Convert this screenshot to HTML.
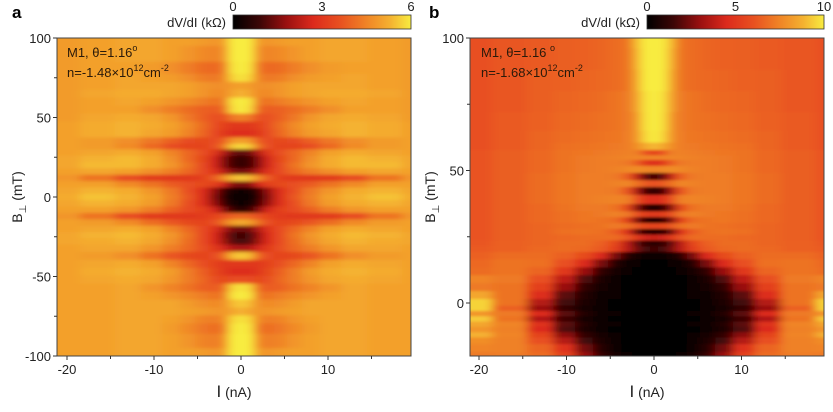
<!DOCTYPE html>
<html><head><meta charset="utf-8"><style>
body{margin:0;background:#fff;width:833px;height:412px;overflow:hidden;position:relative}
svg{display:block;font-family:"Liberation Sans",Arial,sans-serif}
</style></head><body>
<svg id="fig" width="833" height="412" viewBox="0 0 833 412">
<defs>
<filter id="blurA" x="-5%" y="-5%" width="110%" height="110%"><feGaussianBlur stdDeviation="5 1.6"/></filter>
<filter id="blurB" x="-5%" y="-5%" width="110%" height="110%"><feGaussianBlur stdDeviation="5 1.3"/></filter>
<clipPath id="clipA"><rect x="57" y="38" width="354" height="318"/></clipPath>
<clipPath id="clipB"><rect x="470" y="38" width="354" height="318"/></clipPath>
<linearGradient id="cmap" x1="0" x2="1" y1="0" y2="0">
<stop offset="0" stop-color="#000000"/><stop offset="0.15" stop-color="#3c0606"/><stop offset="0.3" stop-color="#9a1010"/><stop offset="0.45" stop-color="#dc2a1c"/><stop offset="0.6" stop-color="#e85020"/><stop offset="0.75" stop-color="#f08426"/><stop offset="0.88" stop-color="#f4b030"/><stop offset="1" stop-color="#f8ec40"/>
</linearGradient>
</defs>
</svg>
<script>
// ---- data ----
const colsI = [0,1,2,3,4.5,6,8,10,13,16,21];
const rowsBA = [100,90,80,75,70,65,60,55,50,45,40,35,32,28,24,20,16,12,8,4,0,-4,-8,-12,-16,-20,-24,-28,-32,-37,-42,-47,-52,-57,-62,-67,-72,-77,-82,-90,-100];
const valsA = [
[6,6,4.9,4.8,4.9,5,5,5.1,5.1,5,4.9],
[6,6,4.7,4.5,4.6,4.8,5,5.1,5.1,5,4.9],
[6,5.9,4.3,4,4.1,4.4,4.7,4.9,5,5,4.9],
[5.9,5.7,4.5,4.3,4.4,4.7,4.9,5,5.1,5,4.9],
[5,4.9,4.7,4.7,4.8,5,5.1,5.1,5.1,5,4.9],
[5.3,5.1,4.6,4.6,4.8,5,5.1,5.2,5.2,5.1,4.9],
[6,5.9,4.3,4.2,4.4,4.6,4.8,5,5.1,5,4.9],
[6,5.8,4,3.8,3.9,4.1,4.4,4.7,5,5,4.9],
[4.5,4.3,3.6,3.6,3.9,4.3,4.8,5.1,5.2,5.1,4.9],
[3,3,3.2,3.6,4.1,4.6,5,5.2,5.3,5.2,5],
[2.8,2.8,3,3.5,4,4.5,4.9,5.1,5.3,5.2,5],
[5,4.8,3.8,3.5,3.4,3.5,3.9,4.3,4.7,4.9,5],
[5.8,5.6,4.2,3.6,3.3,3.3,3.5,4,4.6,4.9,5],
[1.2,1.4,2.2,3,3.6,4,4.5,5,5.2,5.1,5],
[0.8,0.9,1.6,2.6,3.4,4,4.7,5.2,5.4,5.3,5.1],
[0.8,0.9,1.6,2.6,3.5,4.2,4.8,5.2,5.4,5.4,5.1],
[1.4,1.6,2.2,2.9,3.5,4,4.4,4.7,5,5.1,5],
[5.6,5.4,4.6,3.8,3.2,3,3,3.1,3.5,4.2,4.8],
[1.5,1.6,2.6,3.2,3.4,3.6,3.8,4.2,4.6,5,5],
[0.2,0.3,0.8,1.8,2.8,3.6,4.3,4.8,5.2,5.3,5.1],
[0.1,0.2,0.6,1.6,2.8,3.7,4.4,5,5.3,5.5,5.2],
[0.2,0.3,0.8,1.8,2.8,3.6,4.3,4.9,5.2,5.3,5.1],
[0.6,0.8,1.6,2.6,3.2,3.5,3.9,4.4,4.8,5,5],
[4,3.9,3.6,3.3,3.1,3,3,3.1,3.5,4.2,4.8],
[5.2,5,4.2,3.6,3.3,3.4,3.7,4.1,4.6,4.9,5],
[1.4,1.5,2.2,2.9,3.5,4,4.5,5,5.2,5.1,5],
[0.9,1,1.8,2.7,3.5,4.2,4.8,5.2,5.4,5.3,5.1],
[1,1.1,1.9,2.7,3.5,4.1,4.7,5.1,5.3,5.2,5.1],
[2,2.1,2.6,3.1,3.6,4,4.4,4.8,5.1,5.1,5],
[5.6,5.4,4,3.5,3.3,3.4,3.7,4.2,4.7,4.9,5],
[3,3,3,3.3,3.6,4,4.5,5,5.2,5.1,5],
[2.8,2.8,3,3.4,3.9,4.4,4.9,5.2,5.3,5.2,5],
[3.6,3.5,3.4,3.6,4,4.4,4.8,5.1,5.2,5.1,5],
[5.9,5.7,4,3.8,3.9,4.2,4.5,4.8,5.1,5,5],
[6,5.9,4.3,4.2,4.4,4.6,4.8,5,5.1,5,5],
[5.6,5.4,4.7,4.6,4.7,4.9,5.1,5.1,5.1,5,5],
[5.3,5.1,4.8,4.8,4.9,5,5.1,5.1,5.1,5,5],
[5.9,5.7,4.6,4.4,4.5,4.8,5,5.1,5.1,5,5],
[6,5.9,4.3,4.1,4.3,4.6,4.9,5.1,5.1,5,5],
[6,6,4.6,4.4,4.5,4.8,5,5.1,5.1,5,5],
[6,6,4.9,4.8,4.9,5,5,5.1,5.1,5,5]
];
const rowsBB = [100,92,84,76,68,62,59,56.5,55,53,50.5,47.7,45,42.6,39,35.7,33.5,31.3,29,26.9,24.7,22.5,20.5,18,15,12,9,6,3,0,-2,-4,-6,-8,-10,-12,-14,-17,-20];
const valsB = [
[10,10,9,7,6.8,6.6,6.5,6.4,6.3,6.2,6],
[10,10,8.8,7,6.8,6.6,6.5,6.4,6.3,6.2,6],
[10,10,8.6,7,6.8,6.7,6.6,6.5,6.4,6.2,6],
[10,9.8,8.4,7.2,7,6.8,6.7,6.6,6.4,6.2,6],
[10,9.8,8,7.2,7,6.9,6.8,6.7,6.5,6.3,6],
[10,9.6,8,7.3,7.1,7,6.9,6.8,6.6,6.3,6],
[9,8.6,7.8,7.3,7.2,7.1,7,6.9,6.6,6.3,6],
[5.5,6,7.4,7.4,7.3,7.2,7.1,7,6.7,6.4,6.1],
[7.5,7.5,7.6,7.5,7.4,7.3,7.2,7,6.7,6.4,6.1],
[4.5,5,6.5,7.2,7.3,7.3,7.2,7,6.7,6.4,6.1],
[7.5,7.6,7.8,7.6,7.4,7.3,7.2,7,6.7,6.4,6.1],
[1.5,2,4,6.5,7.2,7.3,7.3,7.1,6.8,6.4,6.1],
[6,6.3,7,7.6,7.4,7.3,7.3,7.1,6.8,6.4,6.1],
[1.2,1.5,3.5,6.2,7.2,7.3,7.3,7.1,6.8,6.4,6.1],
[4.5,4.8,6,7.4,7.5,7.4,7.3,7.1,6.8,6.4,6.1],
[0.8,1.1,2.8,5.8,7,7.2,7.2,7,6.7,6.4,6.1],
[5,5.2,6,7.2,7.4,7.2,7.1,6.9,6.7,6.4,6.1],
[0.8,1,2.6,5.5,6.8,7,7.1,6.9,6.7,6.4,6.1],
[5.5,5.6,6.2,7,7.2,7,6.9,6.8,6.6,6.4,6.1],
[0.8,1,2.2,4.8,6.4,6.9,7,6.9,6.6,6.4,6.1],
[4,4.2,5,6.2,6.8,6.8,6.8,6.7,6.6,6.4,6.1],
[1,1.2,2,3.8,5.6,6.5,6.8,6.8,6.6,6.5,6.2],
[1.5,1.6,2.4,3.8,5.4,6.3,6.7,6.8,6.7,6.5,6.3],
[0.3,0.3,0.5,1,2.5,4.5,5.8,6.5,6.8,6.8,6.5],
[0.1,0.1,0.2,0.4,1,2.5,4.5,6,6.9,7,6.7],
[0,0,0.1,0.2,0.5,1.2,3,5,6.6,7,6.8],
[0,0,0,0.1,0.3,0.7,1.8,3.8,6,7.2,7.5],
[0,0,0,0.1,0.2,0.5,1.2,3,5.4,7,7.2],
[0,0,0,0.1,0.2,0.4,0.9,2,4.6,7,8.5],
[0,0,0,0,0.1,0.3,0.7,1.6,3.6,7,9.5],
[0,0,0,0,0.1,0.2,0.5,1.2,3,6.5,9.5],
[0,0,0,0.1,0.2,0.4,0.9,2,4.5,7.2,8],
[0,0,0,0,0.1,0.3,0.6,1.5,3.5,7,9.3],
[0,0,0,0.1,0.2,0.4,0.8,2,4.8,7.5,8.5],
[0,0,0,0,0.1,0.3,0.7,1.8,4.5,7.4,8],
[0,0,0,0.1,0.2,0.5,1.2,2.8,5.5,7.5,8.8],
[0,0,0,0.1,0.3,0.7,1.6,3.6,6,7.4,7.8],
[0,0,0,0.1,0.4,1,2.4,4.8,6.6,7.4,7.5],
[0,0,0.1,0.2,0.5,1.3,3,5.4,6.8,7.3,7.2]
];
const xTicks = [-20,-10,0,10];
const xMinor = [-15,-5,5,15];
const yTicksA = [100,50,0,-50,-100];
const yMinorA = [75,25,-25,-75];
const yTicksB = [100,50,0];
const yMinorB = [75,25];
const cbTicksA = [0,3,6];
const cbTicksB = [0,5,10];

// ---- rendering ----
const NS = 'http://www.w3.org/2000/svg';
const svg = document.getElementById('fig');
const stops = [[0,[0,0,0]],[0.15,[60,6,6]],[0.3,[154,16,16]],[0.45,[220,42,28]],[0.6,[232,80,32]],[0.75,[240,132,38]],[0.88,[244,176,48]],[1,[248,236,64]]];
function cmap(f){
  f=Math.max(0,Math.min(1,f));
  for(let i=1;i<stops.length;i++){
    if(f<=stops[i][0]){
      const a=stops[i-1],b=stops[i],t=(f-a[0])/(b[0]-a[0]);
      const c=a[1].map((v,k)=>Math.round(v+(b[1][k]-v)*t));
      return 'rgb('+c.join(',')+')';
    }
  }
  return 'rgb(248,236,64)';
}
function mk(tag, attrs, parent){
  const e=document.createElementNS(NS,tag);
  for(const k in attrs) e.setAttribute(k,attrs[k]);
  (parent||svg).appendChild(e);
  return e;
}
const fullCols = colsI.slice(1).map(v=>-v).reverse().concat(colsI);
function idxFor(i){ return i<colsI.length-1 ? colsI.length-1-i : i-(colsI.length-1); }

function panel(p){
  const xs = I=>p.x0 + I*p.kx;
  const ys = B=>p.y0 - B*p.ky;
  const clipG = mk('g',{'clip-path':'url(#'+p.clip+')'});
  
  
  const g = mk('g',{filter:'url(#'+p.blur+')'},clipG);
  for(let r=0;r<p.rows.length;r++){
    const yt = r===0 ? p.top-20 : (ys(p.rows[r-1])+ys(p.rows[r]))/2;
    const yb = r===p.rows.length-1 ? p.bottom+20 : (ys(p.rows[r])+ys(p.rows[r+1]))/2;
    for(let c=0;c<fullCols.length;c++){
      const xl = c===0 ? p.left-25 : (xs(fullCols[c-1])+xs(fullCols[c]))/2;
      const xr = c===fullCols.length-1 ? p.right+25 : (xs(fullCols[c])+xs(fullCols[c+1]))/2;
      const v = p.vals[r][idxFor(c)];
      const cell = mk('rect',{x:xl.toFixed(2),y:yt.toFixed(2),width:(xr-xl+0.6).toFixed(2),height:(yb-yt+0.6).toFixed(2),fill:cmap(v/p.vmax)},g);
      
      
    }
  }
  const frame = mk('rect',{x:p.left,y:p.top,width:p.right-p.left,height:p.bottom-p.top,fill:'none',stroke:'#444','stroke-width':1});
  
  
  xTicks.forEach(t=>{
    const x=xs(t);
    mk('line',{x1:x,x2:x,y1:p.bottom,y2:p.bottom+4,stroke:'#333'});
    const tx=mk('text',{x:x,y:p.bottom+18,'font-size':13,'text-anchor':'middle',fill:'#222'});
    tx.textContent=t;
    
    
  });
  xMinor.forEach(t=>{const x=xs(t);mk('line',{x1:x,x2:x,y1:p.bottom,y2:p.bottom+3,stroke:'#333'});});
  p.yTicks.forEach(t=>{
    const y=ys(t);
    mk('line',{x1:p.left-4,x2:p.left,y1:y,y2:y,stroke:'#333'});
    const ty=mk('text',{x:p.left-6,y:y+5,'font-size':13,'text-anchor':'end',fill:'#222'});
    ty.textContent=t;
    
    
  });
  p.yMinor.forEach(t=>{const y=ys(t);mk('line',{x1:p.left-3,x2:p.left,y1:y,y2:y,stroke:'#333'});});
  const cb=mk('rect',{x:p.cbx,y:15,width:p.right-p.cbx,height:14,fill:'url(#cmap)',stroke:'#333','stroke-width':0.8});
  
  
  p.cbTicks.forEach(t=>{
    const x=p.cbx+(p.right-p.cbx)*t/p.vmax;
    const lt=mk('text',{x:x,y:11,'font-size':13,'text-anchor':'middle',fill:'#222'});
    lt.textContent=t;
    
    
  });
}
panel({id:'panel-a',x0:241,kx:8.7,y0:197,ky:1.59,left:57,right:411,top:38,bottom:356,rows:rowsBA,vals:valsA,vmax:6,clip:'clipA',blur:'blurA',yTicks:yTicksA,yMinor:yMinorA,cbx:233,cbTicks:cbTicksA});
panel({id:'panel-b',x0:654,kx:8.75,y0:303,ky:2.65,left:470,right:824,top:38,bottom:356,rows:rowsBB,vals:valsB,vmax:10,clip:'clipB',blur:'blurB',yTicks:yTicksB,yMinor:yMinorB,cbx:647,cbTicks:cbTicksB});
</script>
<svg width="833" height="412" viewBox="0 0 833 412" style="position:absolute;left:0;top:0;font-family:'Liberation Sans',Arial,sans-serif">
<text x="12" y="18" font-size="17" font-weight="bold">a</text>
<text x="429" y="18" font-size="17" font-weight="bold">b</text>
<text x="226" y="27" font-size="13" text-anchor="end" fill="#222">dV/dI (kΩ)</text>
<text x="640" y="27" font-size="13" text-anchor="end" fill="#222">dV/dI (kΩ)</text>
<text x="67" y="57" font-size="13" fill="#2a1a0a">M1,  θ=1.16<tspan dy="-6" font-size="9">o</tspan></text>
<text x="67" y="77" font-size="13" fill="#2a1a0a">n=-1.48×10<tspan dy="-6" font-size="9">12</tspan><tspan dy="6">cm</tspan><tspan dy="-6" font-size="9">-2</tspan></text>
<text x="481" y="57" font-size="13" fill="#2a1a0a">M1,  θ=1.16 <tspan dy="-6" font-size="9">o</tspan></text>
<text x="481" y="77" font-size="13" fill="#2a1a0a">n=-1.68×10<tspan dy="-6" font-size="9">12</tspan><tspan dy="6">cm</tspan><tspan dy="-6" font-size="9">-2</tspan></text>
<text x="234" y="397" font-size="14" text-anchor="middle" fill="#222"><tspan font-size="17">I</tspan> (nA)</text>
<text x="647" y="397" font-size="14" text-anchor="middle" fill="#222"><tspan font-size="17">I</tspan> (nA)</text>
<text transform="translate(22,197) rotate(-90)" font-size="14" text-anchor="middle" fill="#222">B<tspan dy="4" font-size="10">⊥</tspan><tspan dy="-4"> (mT)</tspan></text>
<text transform="translate(435,197) rotate(-90)" font-size="14" text-anchor="middle" fill="#222">B<tspan dy="4" font-size="10">⊥</tspan><tspan dy="-4"> (mT)</tspan></text>
</svg>
</body></html>
